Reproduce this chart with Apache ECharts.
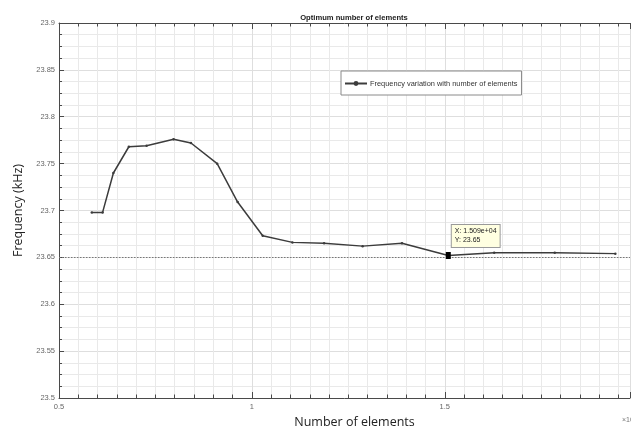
<!DOCTYPE html>
<html>
<head>
<meta charset="utf-8">
<script src="https://cdn.jsdelivr.net/npm/echarts@6/dist/echarts.min.js"></script>
<style>html,body{margin:0;padding:0;background:#fff}#c{width:631px;height:427px}</style>
</head>
<body>
<div id="c"></div>
<script>
// Number of elements (x 10^4) and frequency (kHz)
const elements = [0.585, 0.613, 0.641, 0.681, 0.727, 0.797, 0.842, 0.910, 0.963, 1.028, 1.105, 1.187, 1.287, 1.389, 1.509, 1.628, 1.785, 1.942];
const frequency = [23.698, 23.698, 23.740, 23.768, 23.769, 23.776, 23.772, 23.750, 23.709, 23.673, 23.666, 23.665, 23.662, 23.665, 23.652, 23.655, 23.655, 23.654];
const refLine = 23.65;
const tipIndex = 14;
const xTicks = [0.5, 1, 1.5];
const yTicks = [23.5, 23.55, 23.6, 23.65, 23.7, 23.75, 23.8, 23.85, 23.9];

const narrow = '"Liberation Sans", Arial, sans-serif';
const tipX = elements[tipIndex], tipY = frequency[tipIndex];
const expStr = (v) => { const s = v.toExponential(3); return s.replace(/e([+-])(\d)$/, 'e$10$2'); };
const tipText = 'X: ' + expStr(tipX * 1e4) + '\nY: ' + tipY.toPrecision(4);

const chart = echarts.init(document.getElementById('c'));
const axisCol = '#4a4a4a';
chart.setOption({
  animation: false,
  backgroundColor: '#fff',
  title: {
    text: 'Optimum number of elements', left: 349, top: 9, textAlign: 'center',
    textStyle: { fontFamily: narrow, fontSize: 7.6, fontWeight: 'bold', color: '#222' }
  },
  legend: {
    left: 341, top: 71, orient: 'vertical',
    padding: [9, 4, 8, 3], itemGap: 0,
    itemWidth: 22, itemHeight: 6,
    borderColor: '#8a8a8a', borderWidth: 1, backgroundColor: '#fff',
    textStyle: { fontFamily: narrow, fontSize: 7.4, color: '#333', padding: [0, 0, 0, -2] },
    data: [{ name: 'Frequency variation with number of elements' }]
  },
  grid: { left: 59, right: 1, top: 23, bottom: 29, outerBoundsMode: 'none', containLabel: false },
  xAxis: [{
    type: 'value', min: 0.5, max: 1.98, interval: 0.5, position: 'bottom',
    name: 'Number of elements', nameLocation: 'middle', nameGap: 12,
    nameTextStyle: { fontFamily: '"Open Sans", sans-serif', fontSize: 12.5, color: '#222', padding: [0, 0, 0, 20] },
    axisLine: { lineStyle: { color: axisCol, width: 1 } },
    axisTick: { inside: true, length: 6, lineStyle: { color: axisCol } },
    minorTick: { show: true, splitNumber: 10, length: 3.5, lineStyle: { color: axisCol } },
    axisLabel: { showMaxLabel: false, fontFamily: narrow, fontSize: 7.5, color: '#666', margin: 5,
      formatter: (v) => xTicks.includes(v) ? String(v) : '' },
    splitLine: { show: true, lineStyle: { color: '#dedede', width: 1 } },
    minorSplitLine: { show: true, lineStyle: { color: '#e9e9e9', width: 1 } }
  }, {
    type: 'value', min: 0.5, max: 1.98, interval: 0.5, position: 'top',
    axisLine: { show: true, lineStyle: { color: axisCol, width: 1 } },
    axisTick: { show: true, inside: true, length: 6, lineStyle: { color: axisCol } },
    minorTick: { show: true, splitNumber: 10, length: 3.5, lineStyle: { color: axisCol } },
    axisLabel: { show: false }, splitLine: { show: false }
  }],
  yAxis: {
    type: 'value', min: 23.5, max: 23.9, interval: 0.05,
    name: 'Frequency (kHz)', nameLocation: 'middle', nameGap: 34,
    nameTextStyle: { fontFamily: '"Open Sans", sans-serif', fontSize: 12.5, color: '#222' },
    axisLine: { show: true, lineStyle: { color: axisCol, width: 1 } },
    axisTick: { show: true, inside: true, length: 5, lineStyle: { color: axisCol } },
    minorTick: { show: true, splitNumber: 4, length: 3, lineStyle: { color: axisCol } },
    axisLabel: { fontFamily: narrow, fontSize: 7.5, color: '#666', margin: 4,
      formatter: (v) => { const r = Math.round(v * 100) / 100; return yTicks.some(t => Math.abs(t - r) < 1e-9) ? String(r) : ''; } },
    splitLine: { show: true, lineStyle: { color: '#dedede', width: 1 } },
    minorSplitLine: { show: true, lineStyle: { color: '#e9e9e9', width: 1 } }
  },
  series: [{
    name: 'Frequency variation with number of elements',
    type: 'line', xAxisIndex: 0,
    data: elements.map((x, i) => [x, frequency[i]]),
    symbol: 'circle', symbolSize: 2.5,
    lineStyle: { color: '#3c3c3c', width: 1.5 },
    itemStyle: { color: '#3c3c3c' },
    markLine: {
      silent: true, symbol: 'none', label: { show: false },
      lineStyle: { color: '#777', type: [1.5, 1.5], width: 1 },
      data: [{ yAxis: refLine }]
    },
    markPoint: {
      silent: true,
      data: [{ coord: [tipX, tipY], symbol: 'rect', symbolSize: [5, 7], itemStyle: { color: '#000' } }],
      label: {
        show: true, formatter: tipText, position: [6, -27], align: 'left', verticalAlign: 'top',
        fontFamily: narrow, fontSize: 7, color: '#222', lineHeight: 9,
        backgroundColor: '#ffffe1', borderColor: '#9a9a9a', borderWidth: 1, padding: [2, 3, 2, 3]
      }
    }
  }],
  graphic: [{
    type: 'text', left: 622, top: 417,
    style: { text: '×10⁴', fontFamily: narrow, fontSize: 7, fill: '#777' }
  }]
});
</script>
</body>
</html>
